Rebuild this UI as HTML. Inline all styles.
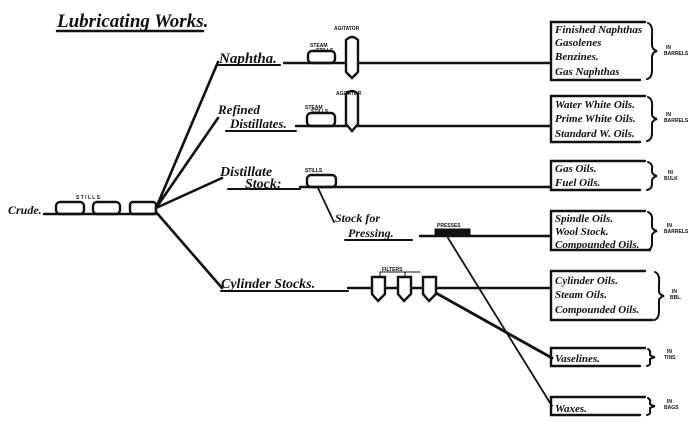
<!DOCTYPE html>
<html><head><meta charset="utf-8"><style>
html,body{margin:0;padding:0;background:#fff;}
svg{display:block;}
text{font-family:"Liberation Serif",serif;font-style:italic;fill:#111;font-weight:bold;}
.s{font-family:"Liberation Sans",sans-serif;font-style:normal;font-weight:bold;font-size:5px;}
</style></head><body>
<svg width="700" height="424" viewBox="0 0 700 424" xmlns="http://www.w3.org/2000/svg">
<g stroke="#111" fill="none" stroke-linecap="round">
<line x1="57" y1="31" x2="203" y2="31" stroke-width="2.5"/>
<line x1="44" y1="214" x2="156" y2="214" stroke-width="2.5"/>
<rect x="56" y="202" width="28" height="12" rx="4" stroke-width="2.4"/>
<rect x="93" y="202" width="27" height="12" rx="4" stroke-width="2.4"/>
<rect x="130" y="202" width="26" height="12" rx="3" stroke-width="2.4"/>
<g stroke-width="2.6">
<line x1="156" y1="208" x2="218" y2="62"/>
<line x1="156" y1="208" x2="218" y2="118"/>
<line x1="156" y1="208" x2="222" y2="178"/>
<line x1="156" y1="212" x2="222" y2="288"/>
</g>
<line x1="218" y1="65" x2="280" y2="65" stroke-width="2"/>
<line x1="284" y1="63" x2="550" y2="63" stroke-width="2.4"/>
<rect x="308" y="51" width="27" height="12" rx="4" stroke-width="2.4"/>
<path d="M346 72 V40 Q352 34 358 40 V72 L352 78 Z" stroke-width="2.4" fill="#fff"/>
<line x1="226" y1="131" x2="296" y2="131" stroke-width="2"/>
<line x1="296" y1="126" x2="550" y2="126" stroke-width="2.4"/>
<rect x="307" y="113" width="28" height="13" rx="4" stroke-width="2.4"/>
<path d="M346 124 V94 Q352 88 358 94 V124 L352 131 Z" stroke-width="2.4" fill="#fff"/>
<line x1="228" y1="189" x2="300" y2="189" stroke-width="2"/>
<line x1="300" y1="187" x2="550" y2="187" stroke-width="2.4"/>
<rect x="307" y="175" width="29" height="12" rx="4" stroke-width="2.4"/>
<line x1="318" y1="188" x2="334" y2="222" stroke-width="1.8"/>
<line x1="345" y1="240" x2="412" y2="240" stroke-width="2"/>
<line x1="420" y1="236" x2="550" y2="236" stroke-width="2.4"/>
<rect x="435" y="229" width="35" height="7" fill="#111" stroke-width="1"/>
<line x1="448" y1="238" x2="552" y2="406" stroke-width="1.8"/>
<line x1="221" y1="291" x2="348" y2="291" stroke-width="2"/>
<line x1="348" y1="288" x2="550" y2="288" stroke-width="2.4"/>
<g stroke-width="2.4" fill="#fff">
<path d="M372 277 H385 V294 L378 301 L372 294 Z"/>
<path d="M398 277 H411 V294 L404 301 L398 294 Z"/>
<path d="M423 277 H436 V294 L429 301 L423 294 Z"/>
</g>
<line x1="380" y1="277" x2="380" y2="272" stroke-width="1"/>
<line x1="405" y1="277" x2="405" y2="272" stroke-width="1"/>
<line x1="380" y1="272" x2="420" y2="272" stroke-width="1"/>
<line x1="436" y1="293" x2="552" y2="358" stroke-width="2.8"/>
<g stroke-width="2.4">
<path d="M645 22 H551 V80 H640"/>
<path d="M645 96 H551 V142 H640"/>
<path d="M645 161 H551 V190 H640"/>
<path d="M645 211 H551 V250 H650"/>
<path d="M645 271 H551 V320 H652"/>
<path d="M645 348 H551 V366 H640"/>
<path d="M645 397 H551 V415 H640"/>
</g>
<g stroke-width="2">
<path d="M648 23 Q653 25 652 35 L652 46 Q653 50 657 51 Q653 52 652 56 L652 70 Q652 78 647 79"/>
<path d="M648 97 Q653 99 652 107 V115 Q653 118 657 119 Q653 120 652 123 V133 Q652 140 647 141"/>
<path d="M648 162 Q653 164 652 169 V172 Q653 175 657 176 Q653 177 652 180 V184 Q652 189 647 190"/>
<path d="M648 212 Q653 214 652 221 V227 Q653 230 657 231 Q653 232 652 235 V243 Q652 250 647 250"/>
<path d="M655 272 Q660 274 659 283 V292 Q660 295 664 296 Q660 297 659 300 V311 Q659 319 654 320"/>
<path d="M648 349 Q651 351 650 354 V355 Q652 357 655 357 Q652 358 650 359 V362 Q651 365 647 366"/>
<path d="M648 398 Q651 400 650 403 V404 Q652 406 655 406 Q652 407 650 408 V411 Q651 414 647 415"/>
</g>
</g>
<text x="57" y="27" font-size="19">Lubricating Works.</text>
<text x="8" y="214" font-size="12">Crude.</text>
<text x="76" y="199" class="s">S T I L L S</text>
<text x="219" y="63" font-size="15">Naphtha.</text>
<text x="310" y="47" class="s">STEAM</text><text x="316" y="52" class="s">STILLS</text>
<text x="334" y="30" class="s">AGITATOR</text>
<text x="218" y="114" font-size="13">Refined</text>
<text x="230" y="128" font-size="13">Distillates.</text>
<text x="305" y="109" class="s">STEAM</text><text x="311" y="113" class="s">STILLS</text>
<text x="336" y="95" class="s">AGITATOR</text>
<text x="220" y="176" font-size="14">Distillate</text>
<text x="245" y="188" font-size="14">Stock:</text>
<text x="305" y="172" class="s">STILLS</text>
<text x="335" y="222" font-size="12">Stock for</text>
<text x="348" y="237" font-size="12">Pressing.</text>
<text x="437" y="227" class="s">PRESSES</text>
<text x="221" y="288" font-size="14">Cylinder Stocks.</text>
<text x="382" y="271" class="s">FILTERS</text>
<g font-size="11">
<text x="555" y="33">Finished Naphthas</text>
<text x="555" y="46">Gasolenes</text>
<text x="555" y="60">Benzines.</text>
<text x="555" y="75">Gas Naphthas</text>
<text x="555" y="108">Water White Oils.</text>
<text x="555" y="122">Prime White Oils.</text>
<text x="555" y="137">Standard W. Oils.</text>
<text x="555" y="172">Gas Oils.</text>
<text x="555" y="186">Fuel Oils.</text>
<text x="555" y="222">Spindle Oils.</text>
<text x="555" y="235">Wool Stock.</text>
<text x="555" y="248">Compounded Oils.</text>
<text x="555" y="284">Cylinder Oils.</text>
<text x="555" y="298">Steam Oils.</text>
<text x="555" y="313">Compounded Oils.</text>
<text x="555" y="362">Vaselines.</text>
<text x="555" y="412">Waxes.</text>
</g>
<text x="666" y="49" class="s">IN</text><text x="664" y="55" class="s">BARRELS</text>
<text x="666" y="116" class="s">IN</text><text x="664" y="122" class="s">BARRELS</text>
<text x="668" y="174" class="s">IN</text><text x="664" y="180" class="s">BULK</text>
<text x="667" y="227" class="s">IN</text><text x="664" y="233" class="s">BARRELS</text>
<text x="672" y="293" class="s">IN</text><text x="670" y="299" class="s">BBL.</text>
<text x="667" y="353" class="s">IN</text><text x="664" y="359" class="s">TINS</text>
<text x="667" y="403" class="s">IN</text><text x="664" y="409" class="s">BAGS</text>
</svg>
</body></html>
